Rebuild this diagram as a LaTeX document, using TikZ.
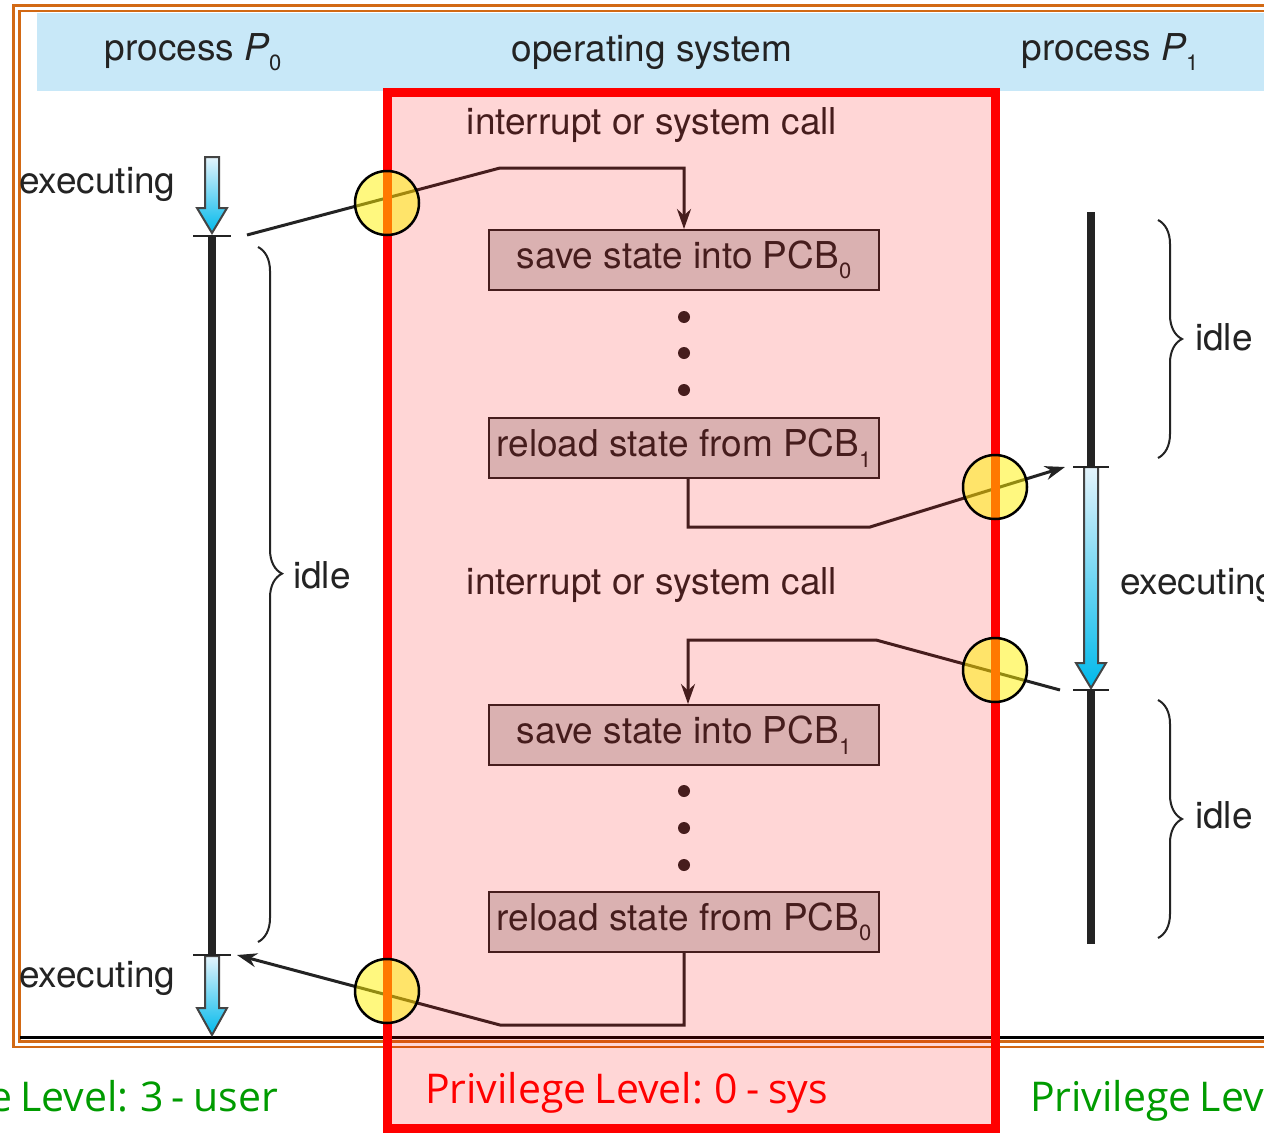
\documentclass[tikz,border=0pt]{standalone}
\usepackage{fontspec}
\setmainfont{TeX Gyre Heros}
\newfontfamily\gillfont{Open Sans}
\usetikzlibrary{arrows.meta,decorations.pathreplacing,shadings}
\definecolor{frameor}{RGB}{210,105,20}
\definecolor{hdrblue}{RGB}{200,232,248}
\definecolor{inkc}{RGB}{35,35,35}
\definecolor{boxgray}{RGB}{212,212,212}
\definecolor{arrtop}{RGB}{228,244,252}
\definecolor{arrbot}{RGB}{0,185,235}
\definecolor{lvgreen}{RGB}{0,155,0}
\newcommand\mysub[1]{\raisebox{-0.28em}{\fontsize{22}{22}\selectfont #1}}
\newcommand\privfont{\gillfont\fontsize{41}{45}\selectfont\spaceskip 0.2em\relax}
\newcommand\execshape[4]{\path[execstyle] (#1-7,#2) -- (#1+7,#2) -- (#1+7,#4) -- (#1+15,#4) -- (#1,#3) -- (#1-15,#4) -- (#1-7,#4) -- cycle;}
\begin{document}
\begin{tikzpicture}[x=1pt,y=-1pt,
  lbl/.style={text=inkc,font=\fontsize{37}{42}\selectfont, inner sep=0pt},
  statebox/.style={draw=inkc, line width=2pt, fill=boxgray, minimum width=390pt, minimum height=60pt, inner sep=0pt, text=inkc, font=\fontsize{37}{42}\selectfont},
  conn/.style={draw=inkc, line width=3pt},
  endtip/.style={-{Stealth[length=20pt,width=14pt]}},
  timeline/.style={draw=inkc, line width=8pt},
  tickmark/.style={draw=inkc, line width=2pt},
  bracedeco/.style={draw=inkc, line width=2pt, decorate, decoration={brace, amplitude=24pt, aspect=#1}},
  bracedeco/.default=0.5,
  execstyle/.style={draw=inkc!85, line width=2pt, top color=arrtop, bottom color=arrbot},
  marker/.style={circle, draw=black, line width=2.5pt, fill=yellow, fill opacity=0.5, minimum size=64pt, inner sep=0pt},
  privtext/.style={inner sep=0pt}
]
\useasboundingbox (0,0) rectangle (1264,1135);
\clip (0,0) rectangle (1264,1135);
\fill[white] (0,0) rectangle (1264,1135);

% frame and header
\draw[frameor, line width=2.5pt] (13.5,5.5) rectangle (1300,1047);
\draw[frameor, line width=2.5pt] (19.5,11) rectangle (1295,1041.5);
\draw[black, line width=3pt] (19.5,1037) -- (1300,1037);
\fill[hdrblue] (37,12.5) rectangle (1300,91);
\node[lbl] (hp0) at (193,52) {process {\itshape P}\mysub{0}};
\node[lbl] (hos) at (652,52) {operating system};
\node[lbl] (hp1) at (1110,52) {process {\itshape P}\mysub{1}};

% process P0 timeline
\coordinate (p0top) at (212,236);
\coordinate (p0bot) at (212,955);
\draw[timeline] (p0top) -- (p0bot);
\execshape{212}{157}{233}{208}
\execshape{212}{956}{1035}{1008}
\draw[tickmark] (193,236) -- (231,236);
\draw[tickmark] (193,955) -- (231,955);
\draw[bracedeco=0.47] (258,247) -- (258,942);
\node[lbl, anchor=west] (ex0) at (19,184) {executing};
\node[lbl, anchor=west] (ex0b) at (19,978) {executing};
\node[lbl, anchor=west] (idle0) at (293,575) {idle};

% process P1 timeline
\coordinate (p1a) at (1091,212);
\coordinate (p1b) at (1091,467);
\coordinate (p1c) at (1091,690);
\coordinate (p1d) at (1091,944);
\draw[timeline] (p1a) -- (p1b);
\draw[timeline] (p1c) -- (p1d);
\execshape{1091}{467}{688}{663}
\draw[tickmark] (1073,467) -- (1109,467);
\draw[tickmark] (1073,690) -- (1109,690);
\draw[bracedeco] (1158,220) -- (1158,458);
\draw[bracedeco] (1158,700) -- (1158,938);
\node[lbl, anchor=west] (ex1) at (1120,585) {executing};
\node[lbl, anchor=west] (idle1a) at (1195,337) {idle};
\node[lbl, anchor=west] (idle1b) at (1195,815) {idle};

% operating system
\node[lbl] (int1) at (652,125) {interrupt or system call};
\node[lbl] (int2) at (652,585) {interrupt or system call};
\node[statebox] (save0) at (684,260) {save state into PCB\mysub{0}};
\node[statebox] (reload1) at (684,448) {reload state from PCB\mysub{1}};
\node[statebox] (save1) at (684,735) {save state into PCB\mysub{1}};
\node[statebox] (reload0) at (684,922) {reload state from PCB\mysub{0}};
\foreach \yy in {317,353,390,791,828,865} \fill[inkc] (684,\yy) circle (6pt);

% connectors
\coordinate (p0out) at (247,235);
\coordinate (k1) at (500,168);
\draw[conn, endtip] (p0out) -- (k1) -| (save0.north);
\coordinate (k2) at (870,527);
\coordinate (p1in) at (1065,467);
\draw[conn, endtip] ([xshift=4pt]reload1.south) |- (k2) -- (p1in);
\coordinate (p1out) at (1060,690);
\coordinate (k3) at (876,640);
\draw[conn, endtip] (p1out) -- (k3) -| ([xshift=4pt]save1.north);
\coordinate (k4) at (500,1025);
\coordinate (p0in) at (237,955);
\draw[conn, endtip] (reload0.south) |- (k4) -- (p0in);

% kernel region overlay
\fill[red, fill opacity=0.16] (387,92) rectangle (995,1128);
\draw[red, line width=9pt] (387,92) rectangle (995,1128);

% crossing markers
\node[marker] (m1) at (387,203) {};
\node[marker] (m2) at (995,487) {};
\node[marker] (m3) at (995,670) {};
\node[marker] (m4) at (387,991) {};

% privilege levels
\node[privtext, text=lvgreen, anchor=base east] (lvl3a) at (278,1111) {\privfont Privilege Level: 3 - user};
\node[privtext, text=red, anchor=base west] (lvl0) at (425,1103) {\privfont Privilege Level: 0 - sys};
\node[privtext, text=lvgreen, anchor=base west] (lvl3b) at (1030,1111) {\privfont Privilege Level: 3 - user};
\end{tikzpicture}
\end{document}
